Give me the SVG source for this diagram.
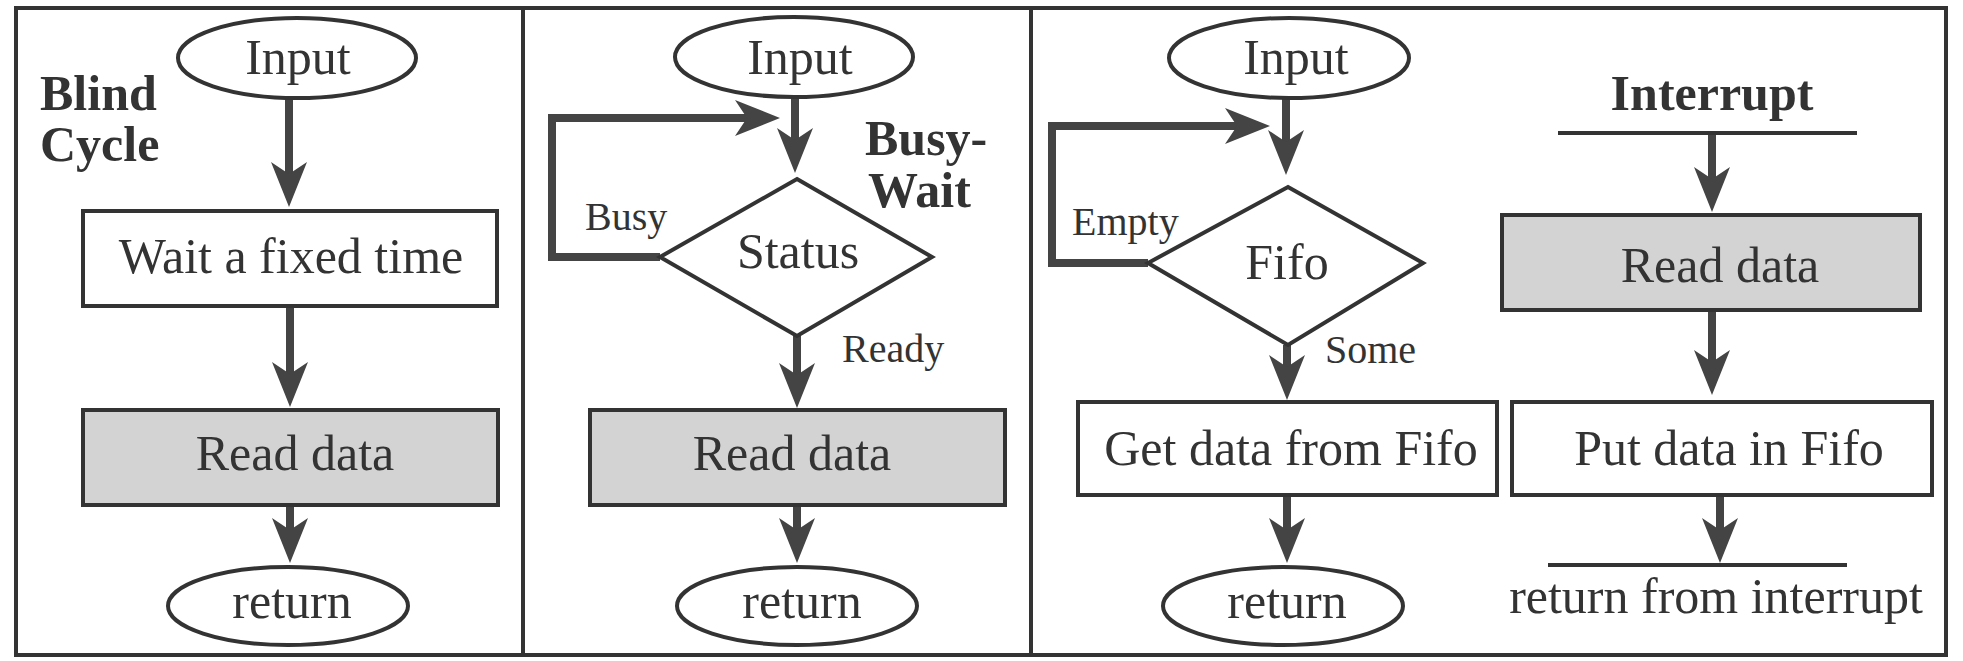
<svg xmlns="http://www.w3.org/2000/svg" width="1963" height="661" viewBox="0 0 1963 661">
<style>
.frame{fill:none;stroke:#333;stroke-width:4}
.sh{fill:#fff;stroke:#333;stroke-width:4}
.gray{fill:#d3d3d3;stroke:#333;stroke-width:4}
.t{font-family:"Liberation Serif","Times New Roman",serif;font-size:50px;fill:#333}
.lb{font-family:"Liberation Serif","Times New Roman",serif;font-size:40px;fill:#333}
.b{font-family:"Liberation Serif","Times New Roman",serif;font-size:50px;font-weight:bold;fill:#333}
.c{text-anchor:middle}
.ar{fill:none;stroke:#444;stroke-width:8;marker-end:url(#ah)}
.bar{stroke:#333;stroke-width:4}
</style>
<defs>
<marker id="ah" viewBox="0 0 45 36" refX="15" refY="18" markerWidth="45" markerHeight="36" markerUnits="userSpaceOnUse" orient="auto">
<path d="M0,0 L45,18 L0,36 L12,18 Z" fill="#444"/>
</marker>
</defs>
<rect x="0" y="0" width="1963" height="661" fill="#fff"/>
<g id="frame">
<rect class="frame" x="16" y="8" width="1930" height="647"/>
<line class="frame" x1="523" y1="8" x2="523" y2="655"/>
<line class="frame" x1="1031" y1="8" x2="1031" y2="655"/>
</g>
<g id="connectors">
<line class="ar" x1="289" y1="98" x2="289" y2="177"/>
<line class="ar" x1="290" y1="306" x2="290" y2="377"/>
<line class="ar" x1="290" y1="505" x2="290" y2="533"/>
<line class="ar" x1="795" y1="97" x2="795" y2="143"/>
<polyline class="ar" points="660,257 552,257 552,118 750,118"/>
<line class="ar" x1="797" y1="336" x2="797" y2="378"/>
<line class="ar" x1="797" y1="505" x2="797" y2="533"/>
<line class="ar" x1="1286" y1="98" x2="1286" y2="145"/>
<polyline class="ar" points="1148,263 1052,263 1052,126 1240,126"/>
<line class="ar" x1="1287" y1="345" x2="1287" y2="370"/>
<line class="ar" x1="1287" y1="495" x2="1287" y2="533"/>
<line class="ar" x1="1712" y1="133" x2="1712" y2="182"/>
<line class="ar" x1="1712" y1="310" x2="1712" y2="365"/>
<line class="ar" x1="1720" y1="495" x2="1720" y2="533"/>
</g>
<g id="blind-title"><text class="b" x="40" y="110">Blind</text><text class="b" x="40" y="161">Cycle</text></g>
<g id="p1-input"><ellipse class="sh" cx="297" cy="58" rx="119" ry="40"/><text class="t c" x="298" y="74">Input</text></g>
<g id="p1-wait"><rect class="sh" x="83" y="211" width="414" height="95"/><text class="t c" x="291" y="273">Wait a fixed time</text></g>
<g id="p1-read"><rect class="gray" x="83" y="410" width="415" height="95"/><text class="t c" x="295" y="470">Read data</text></g>
<g id="p1-return"><ellipse class="sh" cx="288" cy="606" rx="120" ry="39"/><text class="t c" x="292" y="618">return</text></g>

<g id="busy-title"><text class="b" x="865" y="155">Busy-</text><text class="b" x="868" y="207">Wait</text></g>
<g id="p2-input"><ellipse class="sh" cx="794" cy="57" rx="119" ry="40"/><text class="t c" x="800" y="74">Input</text></g>
<g id="p2-status"><polygon class="sh" points="797,179 932,257 797,336 660,257"/><text class="t c" x="798" y="268">Status</text></g>
<g id="p2-labels"><text class="lb" x="585" y="230">Busy</text><text class="lb" x="842" y="362">Ready</text></g>
<g id="p2-read"><rect class="gray" x="590" y="410" width="415" height="95"/><text class="t c" x="792" y="470">Read data</text></g>
<g id="p2-return"><ellipse class="sh" cx="797" cy="606" rx="120" ry="39"/><text class="t c" x="802" y="618">return</text></g>

<g id="p3-input"><ellipse class="sh" cx="1289" cy="58" rx="120" ry="40"/><text class="t c" x="1296" y="74">Input</text></g>
<g id="p3-fifo"><polygon class="sh" points="1288,187 1423,263 1288,345 1148,263"/><text class="t c" x="1287" y="279">Fifo</text></g>
<g id="p3-labels"><text class="lb" x="1072" y="235">Empty</text><text class="lb" x="1325" y="363">Some</text></g>
<g id="p3-get"><rect class="sh" x="1078" y="402" width="419" height="93"/><text class="t c" x="1291" y="465">Get data from Fifo</text></g>
<g id="p3-return"><ellipse class="sh" cx="1283" cy="606" rx="120" ry="39"/><text class="t c" x="1287" y="618">return</text></g>

<g id="int-start"><text class="b c" x="1712" y="110">Interrupt</text><line class="bar" x1="1558" y1="133" x2="1857" y2="133"/></g>
<g id="int-read"><rect class="gray" x="1502" y="215" width="418" height="95"/><text class="t c" x="1720" y="282">Read data</text></g>
<g id="int-put"><rect class="sh" x="1512" y="402" width="420" height="93"/><text class="t c" x="1729" y="465">Put data in Fifo</text></g>
<g id="int-return"><line class="bar" x1="1548" y1="565" x2="1847" y2="565"/><text class="t c" x="1716" y="613">return from interrupt</text></g>
</svg>
